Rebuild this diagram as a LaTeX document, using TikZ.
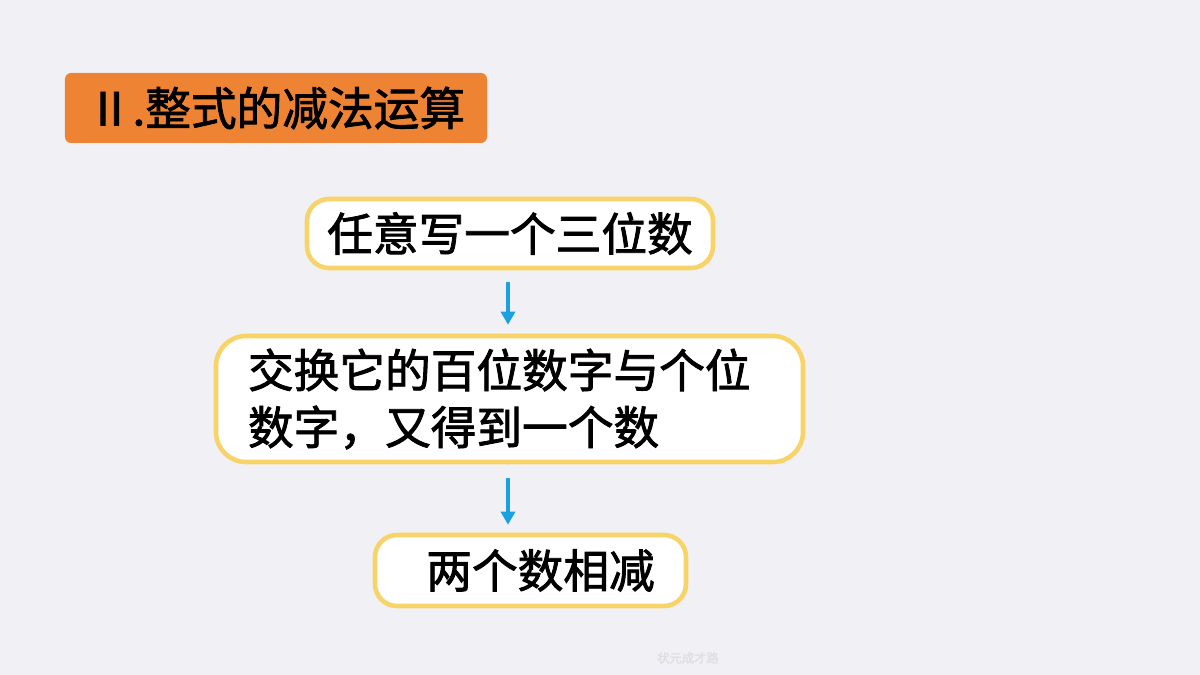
\documentclass[tikz,border=0pt]{standalone}
\usepackage{fontspec}
\newfontfamily\cjk{Noto Sans CJK SC}[FakeBold=1.8]
\usetikzlibrary{arrows.meta}
\definecolor{bgcol}{HTML}{F1F0F5}
\definecolor{titleorange}{HTML}{EE8433}
\definecolor{boxyellow}{HTML}{F8D468}
\definecolor{arrowblue}{HTML}{1BA1E2}
\tikzset{
  stepbox/.style={draw=boxyellow,line width=1.3pt,fill=white,rounded corners=0.22cm,
    font=\cjk\fontsize{13}{16.2}\selectfont,inner sep=0pt},
  flowarrow/.style={draw=arrowblue,line width=0.9pt,-{Triangle[width=1.4mm,length=1.3mm]}}
}
\begin{document}
\begin{tikzpicture}
\useasboundingbox (0,0) rectangle (12,6.75);
\fill[bgcol] (0,0) rectangle (12,6.75);
\node[fill=titleorange,rounded corners=0.06cm,minimum width=4.22cm,minimum height=0.70cm,
  font=\cjk\fontsize{13}{16}\selectfont] (title) at (2.76,5.67) {Ⅱ.整式的减法运算};
\node[stepbox,minimum width=4.06cm,minimum height=0.69cm] (pick) at (5.10,4.415) {任意写一个三位数\hspace{0.22cm}};
\node[stepbox,rounded corners=0.30cm,minimum width=5.87cm,minimum height=1.26cm,
  text width=5.23cm,align=left] (swap) at (5.095,2.76) {交换它的百位数字与个位\\数字，又得到一个数};
\node[stepbox,minimum width=3.11cm,minimum height=0.71cm] (minus) at (5.305,1.045) {\hspace{0.2cm}两个数相减};
\draw[flowarrow,shorten <=0.12cm,shorten >=0.09cm] (pick.south -| 5.08,0) -- (swap.north -| 5.08,0);
\draw[flowarrow,shorten <=0.14cm,shorten >=0.08cm] (swap.south -| 5.08,0) -- (minus.north -| 5.08,0);
\node[text=gray!25,font=\cjk\fontsize{3.5}{4}\selectfont] (mark) at (6.88,0.17) {状元成才路};
\end{tikzpicture}
\end{document}
